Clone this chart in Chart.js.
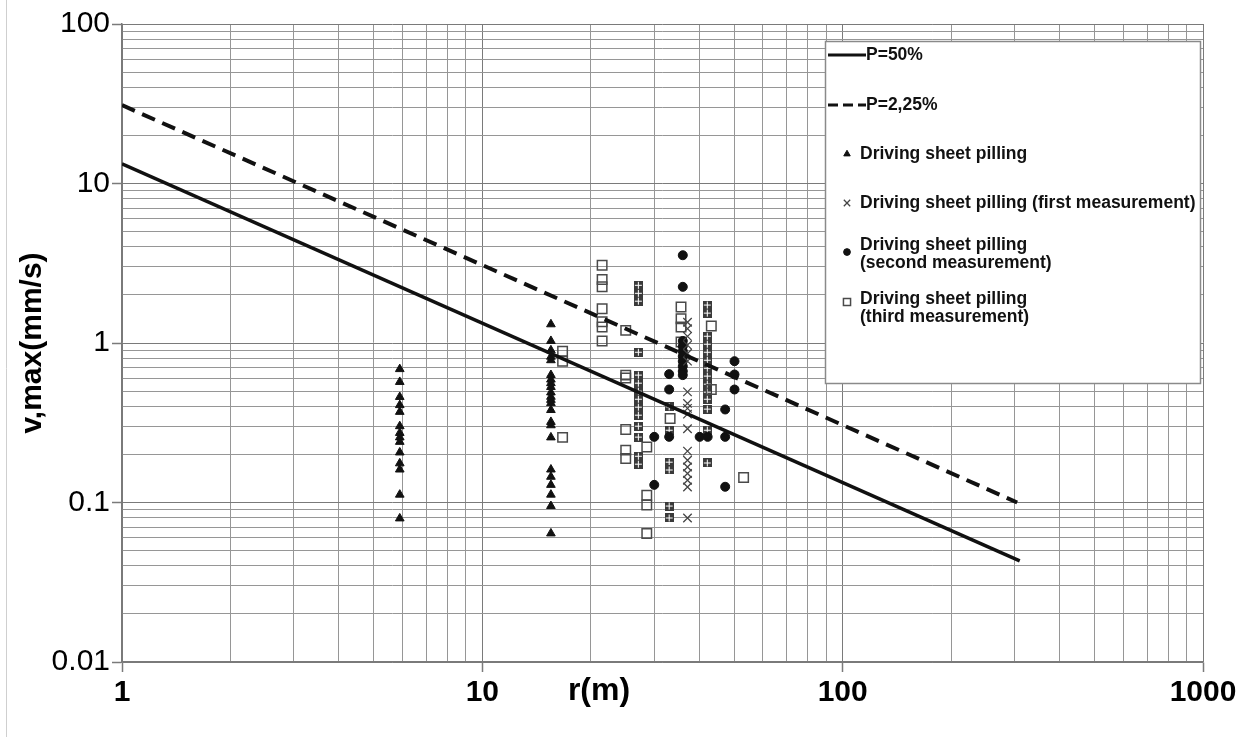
<!DOCTYPE html>
<html>
<head>
<meta charset="utf-8">
<script src="https://cdn.jsdelivr.net/npm/chart.js@4.4.1/dist/chart.umd.min.js"></script>
<style>
  html, body { margin: 0; padding: 0; background: #fff; }
</style>
</head>
<body>
<canvas id="myChart" width="1244" height="737"></canvas>
<script>
// tick labels (log decades)
const xTickLabels = ['1', '10', '100', '1000'];
const yTickLabels = ['0.01', '0.1', '1', '10', '100'];

// P=50% and P=2,25% lines (two end points each)
const p50R = [1, 310];
const p50V = [13.3, 0.043];
const p225R = [1, 305];
const p225V = [31, 0.1];

// Driving sheet pilling (triangles)
const sheetR = [5.9, 5.9, 5.9, 5.9, 5.9, 5.9, 5.9, 5.9, 5.9, 5.9, 5.9, 5.9, 5.9, 5.9,
  15.5, 15.5, 15.5, 15.5, 15.5, 15.5, 15.5, 15.5, 15.5, 15.5, 15.5, 15.5, 15.5, 15.5, 15.5, 15.5, 15.5, 15.5, 15.5, 15.5, 15.5, 15.5, 15.5];
const sheetV = [0.686, 0.57, 0.459, 0.408, 0.37, 0.301, 0.273, 0.256, 0.24, 0.206, 0.176, 0.161, 0.112, 0.0795,
  1.31, 1.03, 0.9, 0.82, 0.78, 0.63, 0.59, 0.56, 0.53, 0.49, 0.46, 0.44, 0.42, 0.38, 0.32, 0.305, 0.256, 0.161, 0.145, 0.129, 0.112, 0.095, 0.064];

// first measurement (crosses)
const firstR = [37.1, 37.1, 37.1, 37.1, 37.1, 37.1, 37.1, 37.1, 37.1, 37.1, 37.1, 37.1, 37.1, 37.1, 37.1, 37.1, 37.1, 37.1];
const firstV = [1.35, 1.23, 1.1, 0.97, 0.86, 0.77, 0.494, 0.418, 0.389, 0.358, 0.29, 0.21, 0.184, 0.167, 0.152, 0.138, 0.125, 0.08];

// second measurement (circles)
const secondR = [36, 36, 36, 36, 36, 36, 36, 36, 36, 36, 33, 33, 30, 33, 30, 40.1, 42.2, 47.2, 47.2, 47.2, 50.1, 50.1, 50.1];
const secondV = [3.55, 2.25, 1.03, 0.955, 0.888, 0.826, 0.769, 0.715, 0.666, 0.629, 0.638, 0.511, 0.258, 0.258, 0.129, 0.258, 0.258, 0.383, 0.258, 0.1255, 0.769, 0.635, 0.511];

// third measurement (open squares)
const thirdR = [16.7, 16.7, 16.7, 21.5, 21.5, 21.5, 21.5, 21.5, 21.5, 21.5, 25, 25, 25, 25, 25, 25,
  28.6, 28.6, 28.6, 28.6, 33.2, 35.6, 35.6, 35.6, 35.6, 43.2, 43.2, 53.1];
const thirdV = [0.888, 0.769, 0.256, 3.07, 2.5, 2.25, 1.64, 1.36, 1.26, 1.03, 1.2, 0.629, 0.603, 0.287, 0.213, 0.189,
  0.223, 0.111, 0.0963, 0.064, 0.336, 1.68, 1.42, 1.26, 1.016, 1.28, 0.511, 0.1436];

// third measurement, tightly stacked squares
const denseR = [27.1, 27.1, 27.1, 27.1, 27.1, 27.1, 27.1, 27.1, 27.1, 27.1, 27.1, 27.1, 27.1, 27.1,
  33, 33, 33, 33, 33, 33,
  42.1, 42.1, 42.1, 42.1, 42.1, 42.1, 42.1, 42.1, 42.1, 42.1, 42.1, 42.1, 42.1, 42.1];
const denseV = [2.3, 2.05, 1.83, 0.875, 0.629, 0.56, 0.499, 0.444, 0.396, 0.353, 0.301, 0.257, 0.195, 0.174,
  0.398, 0.284, 0.179, 0.16, 0.095, 0.08,
  1.73, 1.54, 1.103, 0.983, 0.875, 0.78, 0.695, 0.62, 0.552, 0.492, 0.444, 0.385, 0.284, 0.177];

const legendLabels = [
  ['P=50%'],
  ['P=2,25%'],
  ['Driving sheet pilling'],
  ['Driving sheet pilling (first measurement)'],
  ['Driving sheet pilling', '(second measurement)'],
  ['Driving sheet pilling', '(third measurement)']
];

const FONT = "'Liberation Sans', Arial, sans-serif";

const pts = (r, v) => r.map((x, i) => ({ x: x, y: v[i] }));

// little stacked-square glyph
const denseGlyph = (() => {
  const c = document.createElement('canvas');
  c.width = 9; c.height = 9;
  const g = c.getContext('2d');
  g.fillStyle = '#3a3a3a';
  g.fillRect(0, 0, 9, 9);
  g.fillStyle = '#fff';
  g.fillRect(4, 1, 1, 7);
  g.fillRect(1, 4, 7, 1);
  return c;
})();

// gridlines at 1..9 x 10^k
const logTicks = (lo, hi) => {
  const out = [];
  for (let e = lo; e < hi; e++) {
    for (let m = 1; m < 10; m++) {
      out.push({ value: +(m * Math.pow(10, e)).toPrecision(6), major: m === 1 });
    }
  }
  out.push({ value: Math.pow(10, hi), major: true });
  return out;
};

const decadeLabel = (value, labels, shift) => {
  const e = Math.log10(value);
  if (Math.abs(e - Math.round(e)) > 1e-6) return '';
  return labels[Math.round(e) + shift] || '';
};

const gridColor = ctx => (ctx.tick && ctx.tick.major) ? '#7a7a7a' : '#969696';
const tickColor = ctx => (ctx.tick && ctx.tick.major) ? '#7a7a7a' : 'rgba(0,0,0,0)';

const legendPlugin = {
  id: 'boxLegend',
  afterDraw(chart) {
    const ctx = chart.ctx;
    const ds = chart.data.datasets;
    ctx.save();

    // faint frame line at far left
    ctx.strokeStyle = '#cfcfcf';
    ctx.lineWidth = 1;
    ctx.beginPath();
    ctx.moveTo(6.5, 0);
    ctx.lineTo(6.5, 737);
    ctx.stroke();

    // x axis title
    ctx.fillStyle = '#000';
    ctx.font = 'bold 32px ' + FONT;
    ctx.textAlign = 'center';
    ctx.textBaseline = 'middle';
    ctx.fillText('r(m)', 599, 691);

    // legend box
    ctx.fillStyle = '#fff';
    ctx.fillRect(825, 41, 375, 342);
    ctx.strokeStyle = '#8a8a8a';
    ctx.lineWidth = 1.5;
    ctx.strokeRect(825.5, 41.5, 375, 342);

    ctx.font = 'bold 17.5px ' + FONT;
    ctx.textAlign = 'left';
    ctx.fillStyle = '#111';

    // line samples
    ctx.strokeStyle = '#111';
    ctx.lineWidth = 3;
    ctx.beginPath(); ctx.moveTo(828, 55); ctx.lineTo(866, 55); ctx.stroke();
    ctx.fillText(legendLabels[0][0], 866, 55);
    ctx.setLineDash([10, 5]);
    ctx.beginPath(); ctx.moveTo(828, 105); ctx.lineTo(866, 105); ctx.stroke();
    ctx.setLineDash([]);
    ctx.fillText(legendLabels[1][0], 866, 105);

    // marker entries
    const rows = [
      { ds: ds[2], y: 154, lines: [154] },
      { ds: ds[3], y: 203, lines: [203] },
      { ds: ds[4], y: 252, lines: [245, 263] },
      { ds: ds[5], y: 302, lines: [299, 317] }
    ];
    rows.forEach((row, i) => {
      ctx.fillStyle = row.ds.backgroundColor;
      ctx.strokeStyle = row.ds.borderColor;
      ctx.lineWidth = row.ds.borderWidth;
      Chart.helpers.drawPoint(ctx, {
        pointStyle: row.ds.pointStyle,
        radius: row.ds.pointRadius * 0.75,
        borderWidth: row.ds.borderWidth
      }, 847, row.y);
      ctx.fillStyle = '#111';
      legendLabels[i + 2].forEach((t, k) => ctx.fillText(t, 860, row.lines[k]));
    });
    ctx.restore();
  }
};

new Chart(document.getElementById('myChart'), {
  type: 'scatter',
  data: {
    datasets: [
      {
        label: 'P=50%', type: 'line', data: pts(p50R, p50V), order: 0,
        borderColor: '#111', borderWidth: 3.5, pointRadius: 0, fill: false
      },
      {
        label: 'P=2,25%', type: 'line', data: pts(p225R, p225V), order: 0,
        borderColor: '#111', borderWidth: 4, borderDash: [14, 8], pointRadius: 0, fill: false
      },
      {
        label: 'Driving sheet pilling', data: pts(sheetR, sheetV), order: 1,
        pointStyle: 'triangle', pointRadius: 5, borderWidth: 1,
        backgroundColor: '#111', borderColor: '#111'
      },
      {
        label: 'Driving sheet pilling (first measurement)', data: pts(firstR, firstV), order: 1,
        pointStyle: 'crossRot', pointRadius: 6, borderWidth: 1.3,
        backgroundColor: 'rgba(0,0,0,0)', borderColor: '#444'
      },
      {
        label: 'Driving sheet pilling (second measurement)', data: pts(secondR, secondV), order: 1,
        pointStyle: 'circle', pointRadius: 4.5, borderWidth: 1,
        backgroundColor: '#111', borderColor: '#111'
      },
      {
        label: 'Driving sheet pilling (third measurement)', data: pts(thirdR, thirdV), order: 1,
        pointStyle: 'rect', pointRadius: 6.7, borderWidth: 1.5,
        backgroundColor: 'rgba(0,0,0,0)', borderColor: '#4a4a4a'
      },
      {
        label: 'third stacked', data: pts(denseR, denseV), order: 1,
        pointStyle: denseGlyph, pointRadius: 4.5, borderWidth: 0
      }
    ]
  },
  options: {
    responsive: false,
    animation: false,
    devicePixelRatio: 1,
    layout: { padding: { left: 0, right: 41, top: 24, bottom: 0 } },
    plugins: {
      legend: { display: false },
      tooltip: { enabled: false }
    },
    scales: {
      x: {
        type: 'logarithmic',
        min: 1,
        max: 1000,
        afterBuildTicks: s => { s.ticks = logTicks(0, 3); },
        afterFit: s => { s.height = 75; },
        grid: { color: gridColor, lineWidth: 1, tickLength: 10, tickColor: tickColor, tickWidth: 1.5 },
        border: { color: '#7a7a7a', width: 1.5 },
        ticks: {
          autoSkip: false, maxRotation: 0, padding: 3, color: '#000',
          font: { family: FONT, size: 30, weight: 'bold' },
          callback: v => decadeLabel(v, xTickLabels, 0)
        }
      },
      y: {
        type: 'logarithmic',
        min: 0.01,
        max: 100,
        afterBuildTicks: s => { s.ticks = logTicks(-2, 2); },
        afterFit: s => { s.width = 122; },
        grid: { color: gridColor, lineWidth: 1, tickLength: 10, tickColor: tickColor, tickWidth: 1.5 },
        border: { color: '#7a7a7a', width: 1.5 },
        ticks: {
          autoSkip: false, padding: 2, color: '#000',
          font: { family: FONT, size: 30 },
          callback: v => decadeLabel(v, yTickLabels, 2)
        },
        title: {
          display: true, text: 'v,max(mm/s)', color: '#000',
          font: { family: FONT, size: 30, weight: 'bold' },
          padding: { top: 15, bottom: 0 }
        }
      }
    }
  },
  plugins: [legendPlugin]
});
</script>
</body>
</html>
